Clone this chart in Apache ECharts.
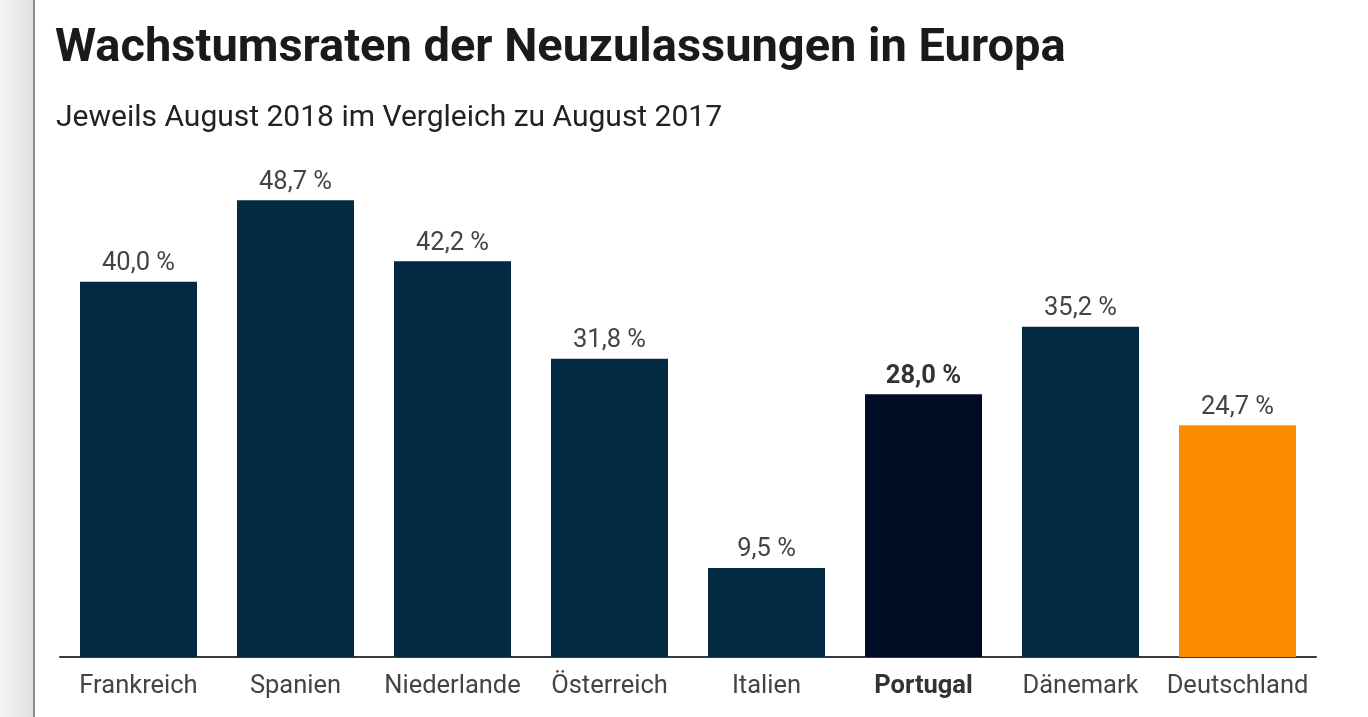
<!DOCTYPE html>
<html>
<head>
<meta charset="utf-8">
<script src="https://cdn.jsdelivr.net/npm/echarts@6/dist/echarts.min.js"></script>
<style>
html,body{margin:0;padding:0;width:1368px;height:717px;overflow:hidden;background:#fff;font-family:Roboto,sans-serif;}
#side{position:absolute;left:0;top:0;width:33px;height:717px;background:linear-gradient(to right,#f4f4f4,#e2e2e2);border-right:2px solid #8a8a8a;}
#chart{position:absolute;left:0;top:0;width:1368px;height:717px;}
</style>
</head>
<body>
<div id="side"></div>
<div id="chart"></div>
<script>
const categories = ['Frankreich','Spanien','Niederlande','Österreich','Italien','Portugal','Dänemark','Deutschland'];
const values = [40.0, 48.7, 42.2, 31.8, 9.5, 28.0, 35.2, 24.7];
const highlightCat = 'Portugal';
const germanyCat = 'Deutschland';
const titleText = 'Wachstumsraten der Neuzulassungen in Europa';
const subtitleText = 'Jeweils August 2018 im Vergleich zu August 2017';

const baseColor = '#022a43';
const portugalColor = '#000c24';
const germanyColor = '#fb8c00';

const chart = echarts.init(document.getElementById('chart'), null, {renderer:'canvas'});
const fmt = v => v.toFixed(1).replace('.', ',') + ' %';

chart.setOption({
  animation:false,
  backgroundColor:'transparent',
  title:[
    {text:titleText, left:50, top:21, textStyle:{fontFamily:'Roboto', fontWeight:'bold', fontSize:47, color:'#1a1a1a'}},
    {text:subtitleText, left:51, top:98, textStyle:{fontFamily:'Roboto', fontWeight:'normal', fontSize:30, color:'#222'}}
  ],
  grid:{left:60, right:52, top:188, bottom:60, containLabel:false},
  xAxis:{
    type:'category', data:categories,
    axisLine:{show:true, lineStyle:{color:'#3a3a3a', width:2}},
    axisTick:{show:false},
    axisLabel:{
      interval:0, margin:17, fontFamily:'Roboto', fontSize:25.5, color:'#444',
      formatter: v => v === highlightCat ? '{b|' + v + '}' : v,
      rich:{b:{fontFamily:'Roboto', fontWeight:'bold', fontSize:25.5, color:'#333'}}
    }
  },
  yAxis:{type:'value', min:0, max:50, show:false, splitLine:{show:false}},
  series:[{
    type:'bar', barWidth:117,
    data: categories.map((c,i)=>({
      value: values[i],
      itemStyle:{color: c===highlightCat ? portugalColor : (c===germanyCat ? germanyColor : baseColor)},
      label:{fontWeight: c===highlightCat ? 'bold' : 'normal', color: c===highlightCat ? '#333' : '#444'}
    })),
    label:{show:true, position:'top', distance:5, fontFamily:'Roboto', fontSize:25.5, formatter: p => fmt(p.value)}
  }]
});
</script>
</body>
</html>
